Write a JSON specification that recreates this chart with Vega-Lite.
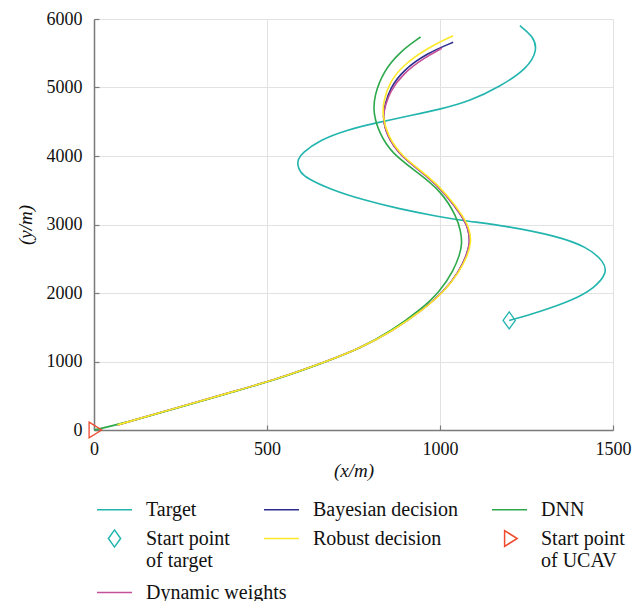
{
  "$schema": "https://vega.github.io/schema/vega-lite/v6.json",
  "width": 519,
  "height": 411,
  "autosize": "none",
  "padding": {"left": 94, "top": 19, "right": 19, "bottom": 171},
  "background": "white",
  "config": {
    "view": {"stroke": null},
    "font": "Liberation Serif",
    "axis": {
      "labelFont": "Liberation Serif",
      "labelFontSize": 18,
      "labelColor": "#111111",
      "titleFont": "Liberation Serif",
      "titleFontSize": 19,
      "titleFontWeight": "normal",
      "titleFontStyle": "italic",
      "titleColor": "#111111",
      "gridColor": "#e2e2e2",
      "gridWidth": 1,
      "domainColor": "#7a7a7a",
      "domainWidth": 1.5,
      "tickColor": "#7a7a7a",
      "tickSize": -5,
      "tickWidth": 1.2,
      "labelFlush": false,
      "format": "d"
    },
    "legend": {
      "labelFont": "Liberation Serif",
      "labelFontSize": 20,
      "labelColor": "#111111",
      "padding": 0
    }
  },
  "datasets": {
    "paths": [
      {"series": "Target", "x": 1200, "y": 1600},
      {"series": "Target", "x": 1289, "y": 1727},
      {"series": "Target", "x": 1385, "y": 1898},
      {"series": "Target", "x": 1445, "y": 2068},
      {"series": "Target", "x": 1483, "y": 2287},
      {"series": "Target", "x": 1475, "y": 2457},
      {"series": "Target", "x": 1424, "y": 2676},
      {"series": "Target", "x": 1337, "y": 2832},
      {"series": "Target", "x": 1193, "y": 2978},
      {"series": "Target", "x": 1077, "y": 3050},
      {"series": "Target", "x": 1000, "y": 3110},
      {"series": "Target", "x": 875, "y": 3236},
      {"series": "Target", "x": 778, "y": 3358},
      {"series": "Target", "x": 682, "y": 3514},
      {"series": "Target", "x": 615, "y": 3674},
      {"series": "Target", "x": 595, "y": 3771},
      {"series": "Target", "x": 588, "y": 3869},
      {"series": "Target", "x": 590, "y": 3952},
      {"series": "Target", "x": 600, "y": 4039},
      {"series": "Target", "x": 653, "y": 4234},
      {"series": "Target", "x": 730, "y": 4380},
      {"series": "Target", "x": 817, "y": 4486},
      {"series": "Target", "x": 923, "y": 4599},
      {"series": "Target", "x": 1000, "y": 4682},
      {"series": "Target", "x": 1087, "y": 4803},
      {"series": "Target", "x": 1173, "y": 5012},
      {"series": "Target", "x": 1253, "y": 5280},
      {"series": "Target", "x": 1282, "y": 5547},
      {"series": "Target", "x": 1270, "y": 5742},
      {"series": "Target", "x": 1231, "y": 5902},

      {"series": "Bayesian decision", "x": 68, "y": 75},
      {"series": "Bayesian decision", "x": 249, "y": 337},
      {"series": "Bayesian decision", "x": 393, "y": 547},
      {"series": "Bayesian decision", "x": 538, "y": 757},
      {"series": "Bayesian decision", "x": 672, "y": 1002},
      {"series": "Bayesian decision", "x": 769, "y": 1193},
      {"series": "Bayesian decision", "x": 865, "y": 1455},
      {"series": "Bayesian decision", "x": 949, "y": 1750},
      {"series": "Bayesian decision", "x": 1011, "y": 2019},
      {"series": "Bayesian decision", "x": 1054, "y": 2300},
      {"series": "Bayesian decision", "x": 1078, "y": 2560},
      {"series": "Bayesian decision", "x": 1087, "y": 2740},
      {"series": "Bayesian decision", "x": 1083, "y": 2920},
      {"series": "Bayesian decision", "x": 1067, "y": 3100},
      {"series": "Bayesian decision", "x": 1019, "y": 3430},
      {"series": "Bayesian decision", "x": 961, "y": 3720},
      {"series": "Bayesian decision", "x": 887, "y": 3990},
      {"series": "Bayesian decision", "x": 845, "y": 4300},
      {"series": "Bayesian decision", "x": 834, "y": 4590},
      {"series": "Bayesian decision", "x": 841, "y": 4745},
      {"series": "Bayesian decision", "x": 855, "y": 4988},
      {"series": "Bayesian decision", "x": 894, "y": 5255},
      {"series": "Bayesian decision", "x": 962, "y": 5499},
      {"series": "Bayesian decision", "x": 1038, "y": 5660},

      {"series": "Dynamic weights", "x": 68, "y": 75},
      {"series": "Dynamic weights", "x": 249, "y": 337},
      {"series": "Dynamic weights", "x": 393, "y": 547},
      {"series": "Dynamic weights", "x": 538, "y": 757},
      {"series": "Dynamic weights", "x": 672, "y": 1002},
      {"series": "Dynamic weights", "x": 769, "y": 1193},
      {"series": "Dynamic weights", "x": 865, "y": 1455},
      {"series": "Dynamic weights", "x": 949, "y": 1750},
      {"series": "Dynamic weights", "x": 1011, "y": 2019},
      {"series": "Dynamic weights", "x": 1054, "y": 2300},
      {"series": "Dynamic weights", "x": 1078, "y": 2560},
      {"series": "Dynamic weights", "x": 1087, "y": 2740},
      {"series": "Dynamic weights", "x": 1083, "y": 2920},
      {"series": "Dynamic weights", "x": 1067, "y": 3100},
      {"series": "Dynamic weights", "x": 1019, "y": 3430},
      {"series": "Dynamic weights", "x": 961, "y": 3720},
      {"series": "Dynamic weights", "x": 887, "y": 3990},
      {"series": "Dynamic weights", "x": 845, "y": 4300},
      {"series": "Dynamic weights", "x": 834, "y": 4590},
      {"series": "Dynamic weights", "x": 843, "y": 4745},
      {"series": "Dynamic weights", "x": 855, "y": 4939},
      {"series": "Dynamic weights", "x": 894, "y": 5207},
      {"series": "Dynamic weights", "x": 952, "y": 5426},
      {"series": "Dynamic weights", "x": 1005, "y": 5572},

      {"series": "DNN", "x": 0, "y": 0},
      {"series": "DNN", "x": 70, "y": 78},
      {"series": "DNN", "x": 249, "y": 333},
      {"series": "DNN", "x": 393, "y": 543},
      {"series": "DNN", "x": 538, "y": 753},
      {"series": "DNN", "x": 672, "y": 998},
      {"series": "DNN", "x": 769, "y": 1190},
      {"series": "DNN", "x": 862, "y": 1455},
      {"series": "DNN", "x": 942, "y": 1750},
      {"series": "DNN", "x": 1000, "y": 2019},
      {"series": "DNN", "x": 1040, "y": 2336},
      {"series": "DNN", "x": 1057, "y": 2560},
      {"series": "DNN", "x": 1064, "y": 2720},
      {"series": "DNN", "x": 1060, "y": 2900},
      {"series": "DNN", "x": 1048, "y": 3114},
      {"series": "DNN", "x": 1005, "y": 3480},
      {"series": "DNN", "x": 935, "y": 3760},
      {"series": "DNN", "x": 860, "y": 4040},
      {"series": "DNN", "x": 825, "y": 4330},
      {"series": "DNN", "x": 807, "y": 4620},
      {"series": "DNN", "x": 810, "y": 4880},
      {"series": "DNN", "x": 836, "y": 5231},
      {"series": "DNN", "x": 884, "y": 5523},
      {"series": "DNN", "x": 944, "y": 5737},

      {"series": "Robust decision", "x": 68, "y": 75},
      {"series": "Robust decision", "x": 249, "y": 337},
      {"series": "Robust decision", "x": 393, "y": 547},
      {"series": "Robust decision", "x": 538, "y": 757},
      {"series": "Robust decision", "x": 672, "y": 1002},
      {"series": "Robust decision", "x": 769, "y": 1193},
      {"series": "Robust decision", "x": 866, "y": 1455},
      {"series": "Robust decision", "x": 950, "y": 1750},
      {"series": "Robust decision", "x": 1012, "y": 2019},
      {"series": "Robust decision", "x": 1055, "y": 2300},
      {"series": "Robust decision", "x": 1081, "y": 2560},
      {"series": "Robust decision", "x": 1090, "y": 2740},
      {"series": "Robust decision", "x": 1086, "y": 2920},
      {"series": "Robust decision", "x": 1070, "y": 3100},
      {"series": "Robust decision", "x": 1022, "y": 3430},
      {"series": "Robust decision", "x": 964, "y": 3720},
      {"series": "Robust decision", "x": 890, "y": 3990},
      {"series": "Robust decision", "x": 848, "y": 4300},
      {"series": "Robust decision", "x": 834, "y": 4590},
      {"series": "Robust decision", "x": 836, "y": 4793},
      {"series": "Robust decision", "x": 855, "y": 5085},
      {"series": "Robust decision", "x": 894, "y": 5328},
      {"series": "Robust decision", "x": 962, "y": 5572},
      {"series": "Robust decision", "x": 1038, "y": 5756}
    ],
    "starts": [
      {"series": "Start point of target", "x": 1200, "y": 1600},
      {"series": "Start point of UCAV", "x": 0, "y": 0}
    ]
  },
  "layer": [
    {
      "data": {"name": "paths"},
      "mark": {"type": "line", "interpolate": "basis", "strokeWidth": 1.6},
      "encoding": {
        "x": {
          "field": "x",
          "type": "quantitative",
          "scale": {"domain": [0, 1500], "nice": false},
          "axis": {"values": [0, 500, 1000, 1500], "title": "(x/m)", "labelPadding": 15, "titlePadding": 3}
        },
        "y": {
          "field": "y",
          "type": "quantitative",
          "scale": {"domain": [0, 6000], "nice": false},
          "axis": {"values": [0, 1000, 2000, 3000, 4000, 5000, 6000], "title": "(y/m)", "labelPadding": 17, "titlePadding": 11}
        },
        "stroke": {
          "field": "series",
          "type": "nominal",
          "scale": {
            "domain": ["Target", "Bayesian decision", "Dynamic weights", "DNN", "Robust decision"],
            "range": ["#22b5ae", "#2c2d8e", "#c4509a", "#2da84a", "#fde92a"]
          },
          "legend": {
            "values": ["Dynamic weights"],
            "orient": "none",
            "legendX": 2,
            "legendY": 555,
            "title": null,
            "symbolType": "stroke",
            "symbolSize": 1225,
            "symbolStrokeWidth": 1.5,
            "labelOffset": 13,
            "labelLimit": 400
          }
        },
        "order": {"value": null}
      }
    },
    {
      "data": {"name": "starts"},
      "mark": {"type": "point", "filled": false, "size": 1225, "strokeWidth": 1.3, "opacity": 1, "clip": false},
      "encoding": {
        "x": {"field": "x", "type": "quantitative"},
        "y": {"field": "y", "type": "quantitative"},
        "color": {
          "field": "series",
          "type": "nominal",
          "scale": {
            "domain": ["Target", "Start point of target", "Bayesian decision", "Robust decision", "DNN", "Start point of UCAV"],
            "range": ["#22b5ae", "#22b5ae", "#2c2d8e", "#fde92a", "#2da84a", "#ef4b2f"]
          },
          "legend": {
            "orient": "none",
            "legendX": 2,
            "legendY": 472,
            "columns": 3,
            "columnPadding": 31,
            "rowPadding": 0,
            "title": null,
            "symbolSize": 1225,
            "symbolStrokeWidth": 1.5,
            "labelOffset": 13,
            "labelLimit": 400,
            "labelExpr": "split(replace(datum.label, 'point ', 'point|'), '|')",
            "encode": {"labels": {"update": {"lineHeight": {"value": 24}}}}
          }
        },
        "shape": {
          "field": "series",
          "type": "nominal",
          "scale": {
            "domain": ["Target", "Start point of target", "Bayesian decision", "Robust decision", "DNN", "Start point of UCAV"],
            "range": ["stroke", "M0,-0.49L0.35,0L0,0.49L-0.35,0Z", "stroke", "stroke", "stroke", "M-0.28,-0.45L0.44,0L-0.28,0.45Z"]
          }
        }
      }
    }
  ]
}
